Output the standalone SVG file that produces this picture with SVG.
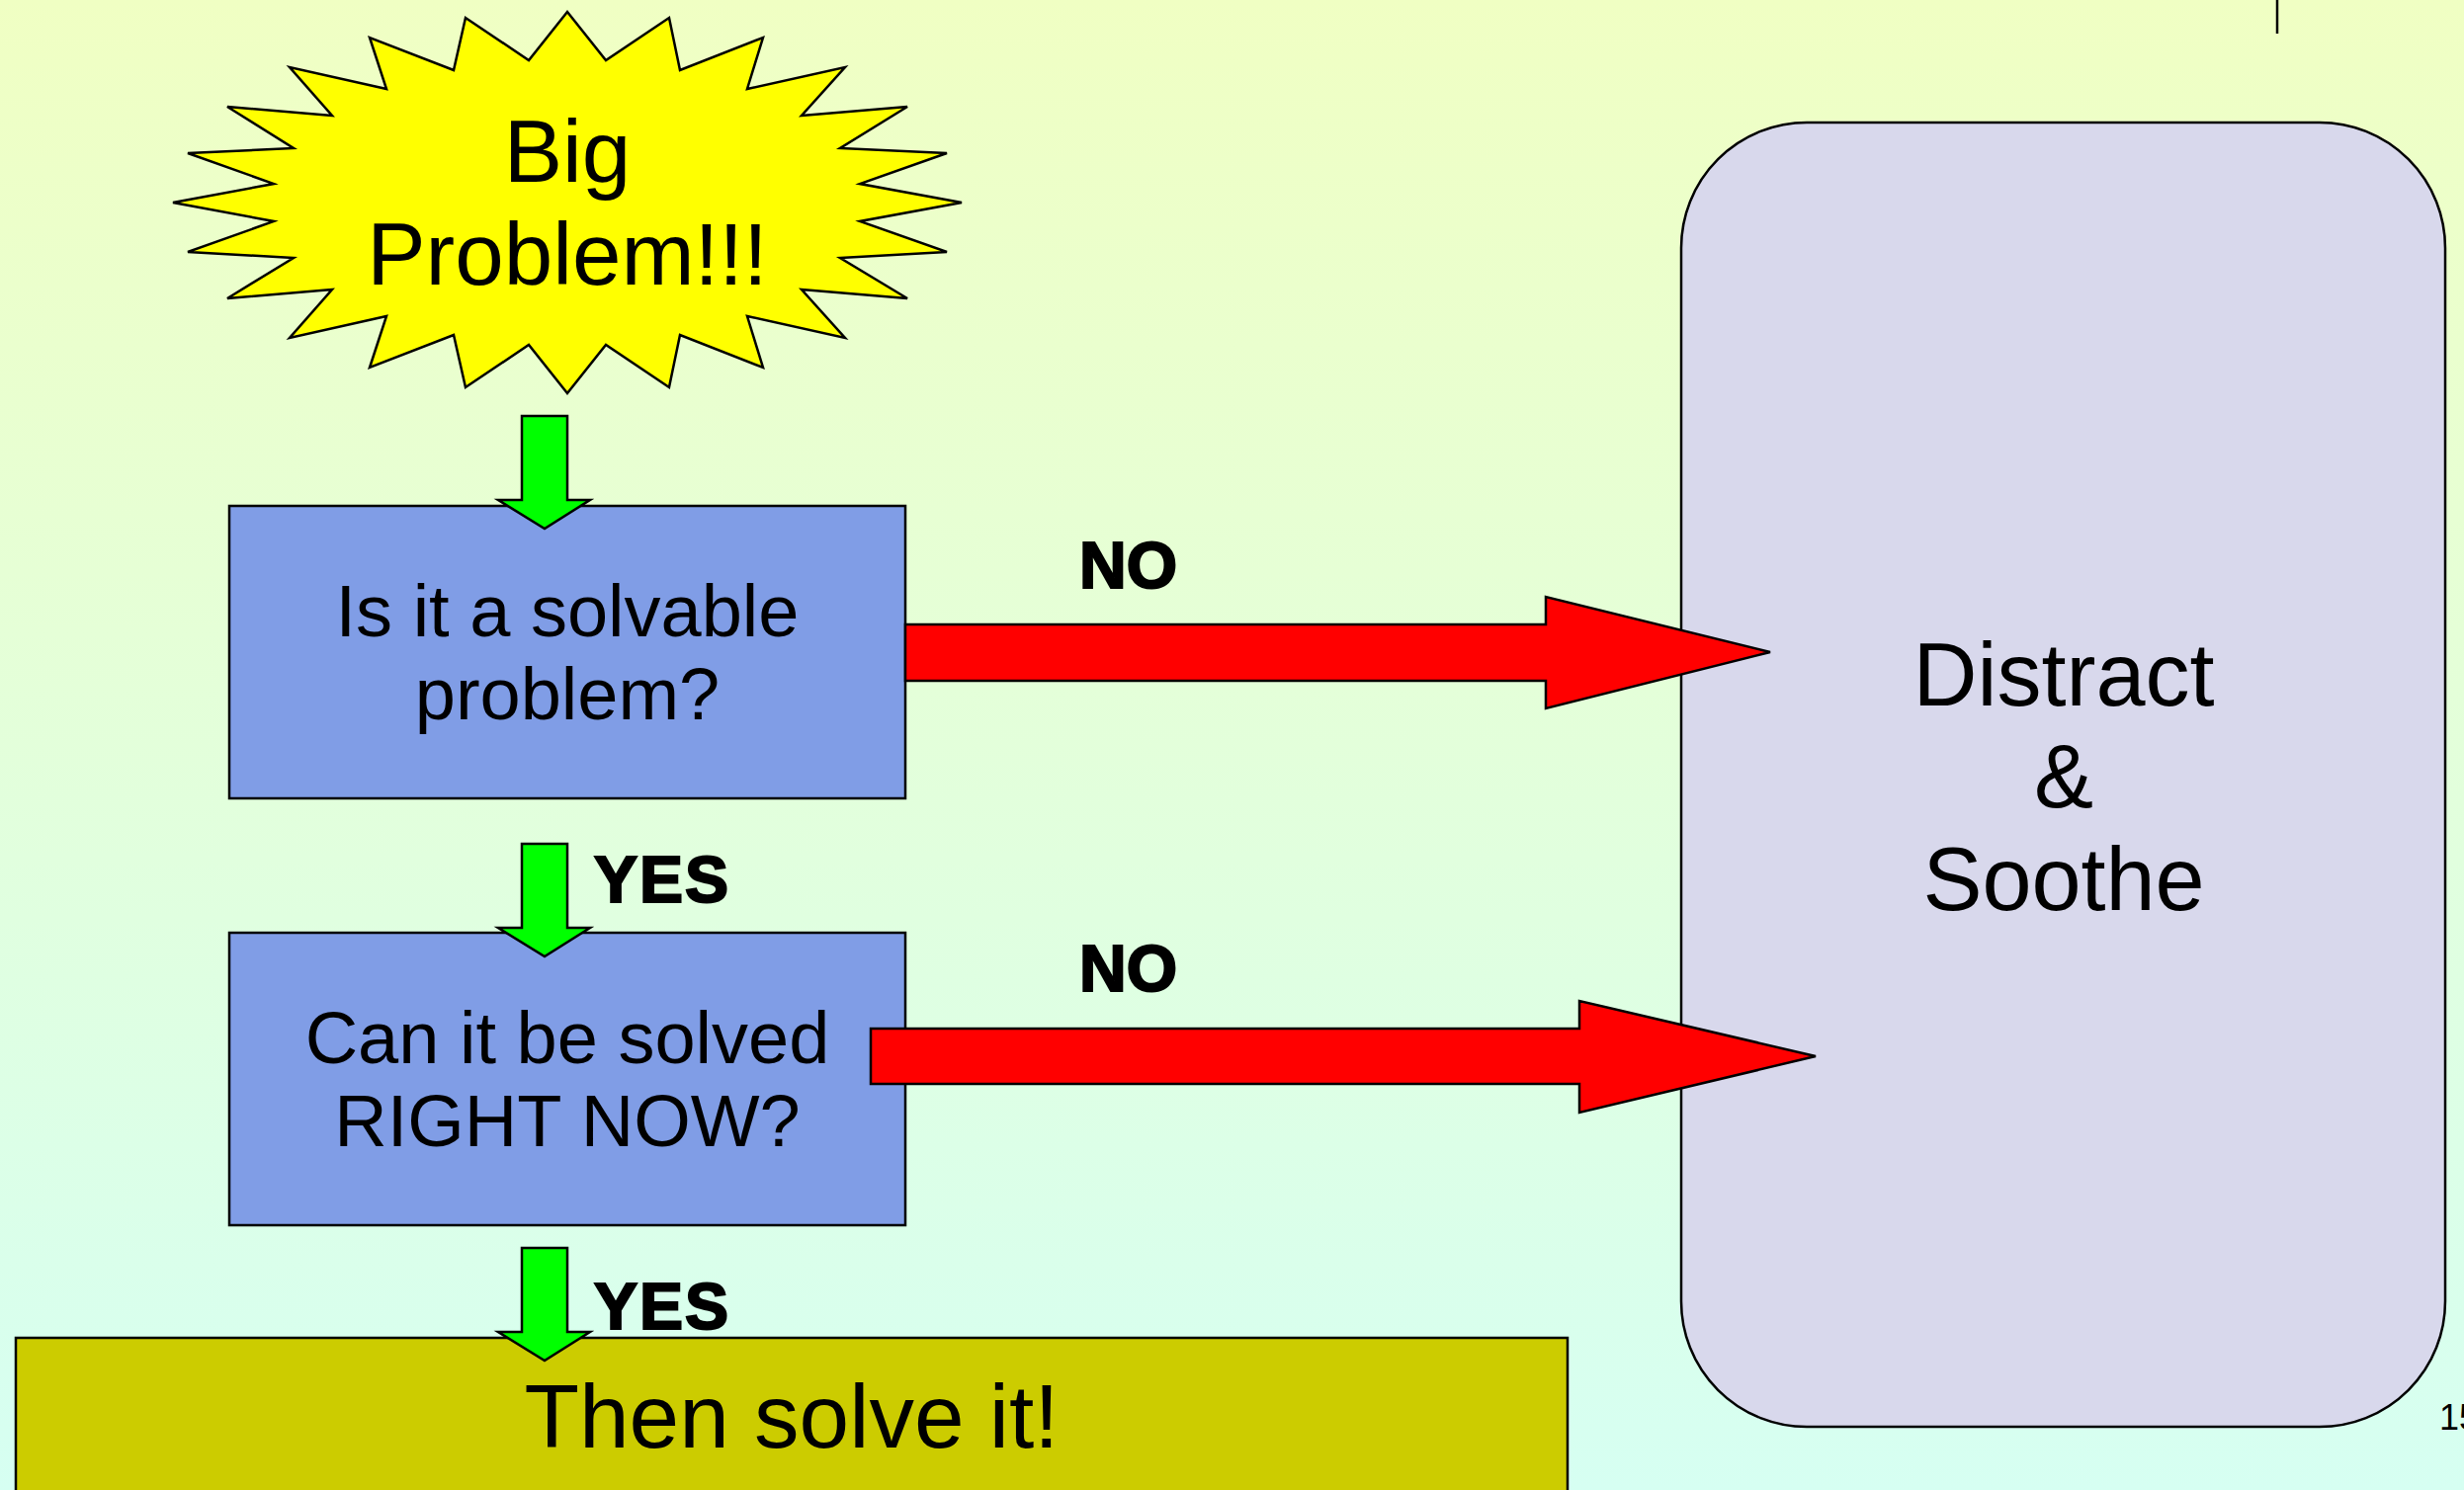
<svg xmlns="http://www.w3.org/2000/svg" width="2493" height="1508" viewBox="0 0 2493 1508">
<defs>
<linearGradient id="bg" x1="0" y1="0" x2="0" y2="1">
<stop offset="0" stop-color="#f0ffc3"/>
<stop offset="1" stop-color="#d6fff2"/>
</linearGradient>
</defs>
<style>
.ln{stroke:#000;stroke-width:2.5;stroke-linejoin:miter}
.t{font-family:"Liberation Sans",Arial,sans-serif;fill:#000;text-anchor:middle}
.lbl{font-family:"Liberation Sans",Arial,sans-serif;font-weight:bold;font-size:66px;fill:#000;stroke:#000;stroke-width:2.2}
.green{fill:#00ff00}
.red{fill:#ff0000}
</style>
<rect width="2493" height="1508" fill="url(#bg)"/>
<line x1="2304" y1="0" x2="2304" y2="34" stroke="#000" stroke-width="2.5"/>
<text x="2468" y="1447" font-family="Liberation Sans, Arial, sans-serif" font-size="36">15</text>

<g id="node-distract">
<rect class="ln" x="1701" y="124" width="773" height="1320" rx="127" ry="127" fill="#d8d8ec"/>
<text class="t" font-size="90" x="2088" y="714">Distract</text>
<text class="t" font-size="90" x="2088" y="817">&amp;</text>
<text class="t" font-size="90" x="2088" y="921">Soothe</text>
</g>

<g id="node-big-problem">
<polygon class="ln" fill="#ffff00" points="574,12 613,61 677,18 688,71 772,38 756,90 855,68 811,117 918,108 850,150 958,155 870,186 973,205 870,224 958,255 850,261 918,302 811,293 855,342 756,320 772,372 688,339 677,392 613,349 574,398 535,349 471,392 459,339 374,372 391,320 293,342 336,293 230,302 297,261 190,255 277,224 175,205 277,186 190,155 297,150 230,108 336,117 293,68 391,90 374,38 459,71 471,18 535,61"/>
<text class="t" font-size="89" x="574" y="184">Big</text>
<text class="t" font-size="89" x="574" y="288">Problem!!!</text>
</g>

<g id="node-solvable">
<rect class="ln" x="232" y="512" width="684" height="296" fill="#809de6"/>
<text class="t" font-size="74" x="574" y="644">Is it a solvable</text>
<text class="t" font-size="74" x="574" y="728">problem?</text>
</g>

<g id="node-right-now">
<rect class="ln" x="232" y="944" width="684" height="296" fill="#809de6"/>
<text class="t" font-size="74" x="574" y="1076">Can it be solved</text>
<text class="t" font-size="74" x="574" y="1160">RIGHT NOW?</text>
</g>

<g id="node-solve">
<rect class="ln" x="16" y="1354" width="1570" height="170" fill="#cccc00"/>
<text class="t" font-size="91" x="801" y="1465">Then solve it!</text>
</g>

<g id="connectors">
<polygon class="ln green" points="528,421 574,421 574,506 597,506 551,535 504,506 528,506"/>
<polygon class="ln green" points="528,854 574,854 574,939 597,939 551,968 504,939 528,939"/>
<polygon class="ln green" points="528,1263 574,1263 574,1348 597,1348 551,1377 504,1348 528,1348"/>
<text class="lbl" x="601" y="913" letter-spacing="2">YES</text>
<text class="lbl" x="601" y="1345" letter-spacing="2">YES</text>
<polygon class="ln red" points="916,632 1564,632 1564,604 1791,660 1564,717 1564,689 916,689"/>
<polygon class="ln red" points="881,1041 1598,1041 1598,1013 1837,1069 1598,1126 1598,1097 881,1097"/>
<text class="lbl" x="1092" y="595">NO</text>
<text class="lbl" x="1092" y="1003">NO</text>
</g>
</svg>
